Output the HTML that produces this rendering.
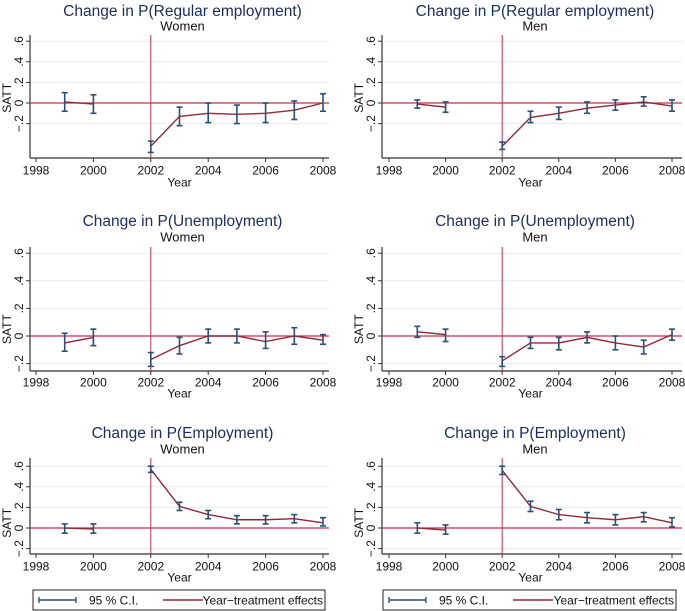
<!DOCTYPE html>
<html><head><meta charset="utf-8"><style>
body{margin:0;background:#fff}
svg{display:block;font-family:"Liberation Sans",Arial,sans-serif}
</style></head><body>
<svg id="chart" width="685" height="611" viewBox="0 0 685 611" xmlns="http://www.w3.org/2000/svg"></svg>
<script>
const years = [1999, 2000, 2002, 2003, 2004, 2005, 2006, 2007, 2008];
const xTicks = [1998, 2000, 2002, 2004, 2006, 2008];
const yTicks = [-0.2, 0, 0.2, 0.4, 0.6];
const yTickLabels = ["\u2212.2", "0", ".2", ".4", ".6"];
const titles = ["Change in P(Regular employment)", "Change in P(Unemployment)", "Change in P(Employment)"];
const subtitles = ["Women", "Men"];
const reWomen = [0.01, -0.01, -0.42, -0.13, -0.1, -0.11, -0.1, -0.07, 0];
const reWomenLo = [-0.08, -0.1, -0.48, -0.22, -0.19, -0.2, -0.19, -0.16, -0.08];
const reWomenHi = [0.1, 0.08, -0.37, -0.04, 0, -0.02, 0, 0.02, 0.09];
const reMen = [-0.01, -0.04, -0.42, -0.14, -0.1, -0.05, -0.02, 0.01, -0.03];
const reMenLo = [-0.05, -0.09, -0.45, -0.19, -0.16, -0.1, -0.07, -0.03, -0.08];
const reMenHi = [0.03, 0.01, -0.38, -0.08, -0.04, 0.01, 0.03, 0.06, 0.03];
const unWomen = [-0.05, -0.01, -0.17, -0.07, 0, 0, -0.04, 0, -0.03];
const unWomenLo = [-0.11, -0.07, -0.22, -0.13, -0.05, -0.05, -0.09, -0.06, -0.06];
const unWomenHi = [0.02, 0.05, -0.12, -0.01, 0.05, 0.05, 0.03, 0.06, 0.01];
const unMen = [0.03, 0.01, -0.18, -0.05, -0.05, -0.01, -0.05, -0.08, 0.01];
const unMenLo = [-0.01, -0.04, -0.22, -0.09, -0.1, -0.05, -0.1, -0.13, -0.03];
const unMenHi = [0.07, 0.05, -0.15, -0.01, -0.01, 0.03, 0, -0.03, 0.05];
const emWomen = [0, -0.01, 0.57, 0.21, 0.13, 0.08, 0.08, 0.09, 0.05];
const emWomenLo = [-0.05, -0.05, 0.54, 0.17, 0.09, 0.04, 0.04, 0.05, 0.02];
const emWomenHi = [0.04, 0.04, 0.6, 0.25, 0.17, 0.12, 0.12, 0.13, 0.1];
const emMen = [0, -0.02, 0.56, 0.21, 0.13, 0.1, 0.08, 0.11, 0.05];
const emMenLo = [-0.05, -0.06, 0.52, 0.16, 0.08, 0.05, 0.03, 0.06, 0.01];
const emMenHi = [0.05, 0.03, 0.6, 0.26, 0.18, 0.15, 0.13, 0.15, 0.1];

const series = [
  [[reWomen, reWomenLo, reWomenHi], [reMen, reMenLo, reMenHi]],
  [[unWomen, unWomenLo, unWomenHi], [unMen, unMenLo, unMenHi]],
  [[emWomen, emWomenLo, emWomenHi], [emMen, emMenLo, emMenHi]]
];
const rows = [
  {title: 10, sub: 26, top: 35, bottom: 158, zero: 103, ppu: 103, tick: 170, year: 182},
  {title: 220, sub: 237, top: 247, bottom: 371, zero: 336, ppu: 138, tick: 382, year: 393},
  {title: 432, sub: 449, top: 458, bottom: 554, zero: 528, ppu: 103, tick: 566, year: 577}
];
const cols = [
  {axis: 30, x0: 36, ppy: 28.7, right: 329},
  {axis: 382, x0: 389, ppy: 28.3, right: 682}
];
const svg = document.getElementById('chart');
const NS = 'http://www.w3.org/2000/svg';
function mk(tag, attrs, parent, text) {
  const e = document.createElementNS(NS, tag);
  for (const k in attrs) e.setAttribute(k, attrs[k]);
  if (text !== undefined) e.textContent = text;
  (parent || svg).appendChild(e);
  return e;
}
const NAVY = '#1c2d5a', CI = '#2c4f72', LINE = '#8e2a3a', REF = '#c92c52';
rows.forEach((r, ri) => {
  cols.forEach((c, ci) => {
    const g = mk('g', {});
    
    
    const xs = y => c.x0 + (y - 1998) * c.ppy;
    const ys = v => r.zero - v * r.ppu;
    const cx = (c.axis + c.right) / 2 + 3;
    const t = mk('text', {x: cx, y: r.title + 6, 'text-anchor': 'middle', 'font-size': 15.5, fill: NAVY}, g, titles[ri]);
    
    
    const s = mk('text', {x: cx, y: r.sub + 4.5, 'text-anchor': 'middle', 'font-size': 13, fill: '#111'}, g, subtitles[ci]);
    
    
    yTicks.forEach((v, i) => {
      const yy = ys(v);
      if (v !== 0) mk('line', {x1: c.axis, x2: c.right, y1: yy, y2: yy, stroke: '#e3ebf0', 'stroke-width': 1}, g);
      mk('line', {x1: c.axis - 4, x2: c.axis, y1: yy, y2: yy, stroke: '#333', 'stroke-width': 1}, g);
      const lb = mk('text', {x: 0, y: 0, transform: `translate(${c.axis - 7},${yy}) rotate(-90)`, 'text-anchor': 'middle', 'font-size': 12, fill: '#111'}, g, yTickLabels[i]);
      
      
    });
    const ya = mk('text', {x: 0, y: 0, transform: `translate(${c.axis - 19},${r.zero - 0.05 * r.ppu}) rotate(-90)`, 'text-anchor': 'middle', 'font-size': 12, fill: '#111'}, g, 'SATT');
    
    
    mk('line', {x1: c.axis, x2: c.axis, y1: r.top, y2: r.bottom, stroke: '#333', 'stroke-width': 1.2}, g);
    mk('line', {x1: c.axis, x2: c.right, y1: r.bottom, y2: r.bottom, stroke: '#333', 'stroke-width': 1.2}, g);
    xTicks.forEach(y => {
      const xx = xs(y);
      mk('line', {x1: xx, x2: xx, y1: r.bottom, y2: r.bottom + 4, stroke: '#333'}, g);
      const lb = mk('text', {x: xx, y: r.tick + 4.5, 'text-anchor': 'middle', 'font-size': 12, fill: '#111'}, g, String(y));
      
      
    });
    const xa = mk('text', {x: xs(2003), y: r.year + 4.5, 'text-anchor': 'middle', 'font-size': 12, fill: '#111'}, g, 'Year');
    
    
    mk('line', {x1: xs(2002), x2: xs(2002), y1: r.top, y2: r.bottom, stroke: REF, 'stroke-width': 1}, g);
    mk('line', {x1: c.axis, x2: c.right, y1: ys(0), y2: ys(0), stroke: REF, 'stroke-width': 1.3}, g);
    const [eff, lo, hi] = series[ri][ci];
    const segs = [[0, 1], [2, 3, 4, 5, 6, 7, 8]];
    segs.forEach(idx => {
      const p = mk('polyline', {points: idx.map(i => xs(years[i]) + ',' + ys(eff[i])).join(' '), fill: 'none', stroke: LINE, 'stroke-width': 1.4}, g);
      
      
    });
    years.forEach((y, i) => {
      const xx = xs(y);
      const eb = mk('g', {stroke: CI, 'stroke-width': 1.6}, g);
      
      
      mk('line', {x1: xx, x2: xx, y1: ys(lo[i]), y2: ys(hi[i])}, eb);
      mk('line', {x1: xx - 3, x2: xx + 3, y1: ys(lo[i]), y2: ys(lo[i])}, eb);
      mk('line', {x1: xx - 3, x2: xx + 3, y1: ys(hi[i]), y2: ys(hi[i])}, eb);
    });
  });
});
[[33, 325], [383, 676]].forEach(([l, rgt], i) => {
  const g = mk('g', {});
  
  
  mk('rect', {x: l, y: 590, width: rgt - l, height: 20, fill: '#fff', stroke: '#222', 'stroke-width': 1}, g);
  mk('line', {x1: l + 6, x2: l + 43, y1: 600, y2: 600, stroke: CI, 'stroke-width': 1.4}, g);
  mk('line', {x1: l + 6, x2: l + 6, y1: 597, y2: 603, stroke: CI, 'stroke-width': 1.4}, g);
  mk('line', {x1: l + 43, x2: l + 43, y1: 597, y2: 603, stroke: CI, 'stroke-width': 1.4}, g);
  const t1 = mk('text', {x: l + 56, y: 604.5, 'font-size': 12, fill: '#111'}, g, '95 % C.I.');
  
  
  mk('line', {x1: l + 130, x2: l + 170, y1: 600, y2: 600, stroke: LINE, 'stroke-width': 1.4}, g);
  const t2 = mk('text', {x: rgt - 2, y: 604.5, 'text-anchor': 'end', 'font-size': 12, fill: '#111'}, g, 'Year\u2212treatment effects');
  
  
});
</script>
</body></html>
